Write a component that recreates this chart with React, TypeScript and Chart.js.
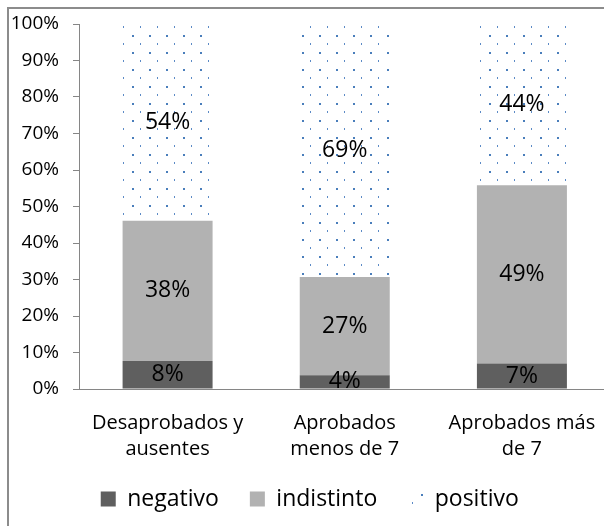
import React, { useEffect, useRef } from 'react';
import { Chart, registerables } from 'chart.js';

Chart.register(...registerables);

const FONT = '"Open Sans", "Noto Sans", sans-serif';

const categories: string[][] = [
  ['Desaprobados y', 'ausentes'],
  ['Aprobados', 'menos de 7'],
  ['Aprobados más', 'de 7'],
];
const seriesNames = ['negativo', 'indistinto', 'positivo'];
const negativo = [7.7, 3.8, 7.0];
const indistinto = [38.4, 26.9, 48.8];
const positivo = [53.9, 69.3, 44.2];
const yMin = 0;
const yMax = 100;
const yStep = 10;

function makeDotPattern(): CanvasPattern | string {
  const tile = document.createElement('canvas');
  tile.width = 17;
  tile.height = 17;
  const c = tile.getContext('2d');
  if (!c) return '#ffffff';
  c.fillStyle = '#5b8ac6';
  c.fillRect(12, 0, 1, 2);
  c.fillStyle = '#4a7ebb';
  c.fillRect(4, 9, 2, 2);
  const main = document.createElement('canvas').getContext('2d');
  const p = main ? main.createPattern(tile, 'repeat') : null;
  return p || '#ffffff';
}

const segLabels = {
  id: 'segLabels',
  afterDatasetsDraw(chart: any) {
    const ctx = chart.ctx;
    ctx.save();
    ctx.font = `23px ${FONT}`;
    ctx.fillStyle = '#000';
    ctx.textAlign = 'center';
    ctx.textBaseline = 'middle';
    chart.data.datasets.forEach((ds: any, i: number) => {
      const meta = chart.getDatasetMeta(i);
      meta.data.forEach((el: any, j: number) => {
        const { x, y, base } = el.getProps(['x', 'y', 'base'], true);
        ctx.fillText(Math.round(ds.data[j]) + '%', x, (y + base) / 2);
      });
    });
    ctx.restore();
  },
};

export default function App() {
  const ref = useRef<HTMLCanvasElement>(null);

  useEffect(() => {
    if (!ref.current) return;
    const pattern = makeDotPattern();
    const axisColor = '#868686';
    const chart = new Chart(ref.current, {
      type: 'bar',
      data: {
        labels: categories,
        datasets: [
          { label: seriesNames[0], data: negativo, backgroundColor: '#5f5f5f', borderWidth: 0 },
          { label: seriesNames[1], data: indistinto, backgroundColor: '#b2b2b2', borderWidth: 0 },
          { label: seriesNames[2], data: positivo, backgroundColor: pattern as any, borderWidth: 0 },
        ],
      },
      options: {
        animation: false,
        responsive: false,
        devicePixelRatio: 1,
        layout: { padding: { top: 15, right: 10.5, bottom: 28.5, left: 0 } },
        datasets: { bar: { categoryPercentage: 1, barPercentage: 0.508 } },
        plugins: {
          tooltip: { enabled: false },
          legend: {
            position: 'bottom',
            labels: {
              font: { family: FONT, size: 23 },
              color: '#000',
              boxWidth: 15,
              boxHeight: 15,
              padding: 31,
            },
          },
        },
        scales: {
          x: {
            stacked: true,
            grid: { display: false, drawTicks: false },
            border: { display: true, color: axisColor, width: 1 },
            ticks: {
              color: '#000',
              font: { family: FONT, size: 20, lineHeight: 1.27 },
              padding: 22,
              autoSkip: false,
              maxRotation: 0,
            },
            afterFit: (s: any) => { s.height = 67.5; },
          },
          y: {
            stacked: true,
            min: yMin,
            max: yMax,
            grid: { display: true, drawOnChartArea: false, drawTicks: true, tickLength: 6, color: axisColor },
            border: { display: true, color: axisColor, width: 1 },
            ticks: {
              stepSize: yStep,
              color: '#000',
              font: { family: FONT, size: 19 },
              padding: 14,
              callback: (v: any) => v + '%',
            },
            afterFit: (s: any) => {
              s.width = 70;
              s.paddingTop = 10;
              s.paddingBottom = 10;
            },
          },
        },
      },
      plugins: [segLabels],
    });
    return () => chart.destroy();
  }, []);

  return (
    <div style={{ position: 'fixed', left: 0, top: 0, width: 604, height: 526, overflow: 'hidden', background: '#fff' }}>
      <div style={{ position: 'absolute', left: 7, top: 7, width: 612, height: 560, border: '2px solid #8c8c8c', background: '#fff' }}>
        <canvas ref={ref} width={612} height={540} style={{ display: 'block', width: 612, height: 540 }} />
      </div>
    </div>
  );
}
